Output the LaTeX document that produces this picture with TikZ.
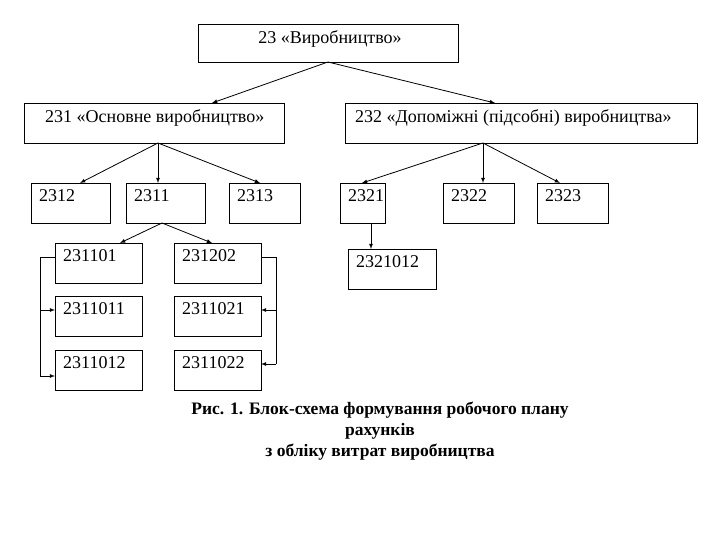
\documentclass[tikz,border=0pt]{standalone}
\usepackage{fontspec}
\setmainfont{Liberation Serif}
\begin{document}
\begin{tikzpicture}[x=1pt,y=-1pt,
  bx/.style={draw,line width=0.8pt,inner sep=0pt},
  arr/.style={-latex,line width=0.8pt},
  lbl/.style={anchor=north west,inner sep=0pt,font=\fontsize{18}{20}\selectfont}]
\useasboundingbox (0,0) rectangle (720,540);
\newcommand{\bxx}[6]{\draw[bx] (#2,#3) rectangle (#4,#5); \node[lbl] (#1) at (#2+8,#3+6) {#6};
  \coordinate (#1t) at ({(#2+#4)/2},#3); \coordinate (#1b) at ({(#2+#4)/2},#5);}
\bxx{top}{198}{24}{458}{62}{}
\node[font=\fontsize{18}{20}\selectfont,anchor=north,inner sep=0pt] (topl) at (330,30) {23 «Виробництво»};
\bxx{a}{24}{103}{284}{143}{}
\node[lbl] (al) at (45,109) {231 «Основне виробництво»};
\bxx{b}{345}{103}{697}{143}{}
\node[lbl] (bl) at (355,109) {232 «Допоміжні (підсобні) виробництва»};
\bxx{a2}{31}{183}{110}{223}{2312}
\bxx{a1}{126}{183}{205}{223}{2311}
\bxx{a3}{229}{183}{300}{223}{2313}
\bxx{b1}{340}{183}{385}{223}{2321}
\bxx{b2}{443}{183}{514}{223}{2322}
\bxx{b3}{537}{183}{608}{223}{2323}
\bxx{b11}{348}{249}{436}{289}{2321012}
\bxx{c1}{55}{243}{142}{283}{231101}
\bxx{d1}{174}{243}{261}{283}{231202}
\bxx{c2}{55}{296}{142}{336}{2311011}
\bxx{d2}{174}{296}{261}{336}{2311021}
\bxx{c3}{55}{350}{142}{390}{2311012}
\bxx{d3}{174}{350}{261}{390}{2311022}
\coordinate (s0) at (328,62);
\coordinate (e1) at (212,103); \coordinate (e2) at (495,103);
\draw[arr] (s0) -- (e1); \draw[arr] (s0) -- (e2);
\coordinate (s1) at (158,143);
\draw[arr] (s1) -- (80,183) coordinate (x1);
\draw[arr] (s1) -- (158,183) coordinate (x2);
\draw[arr] (s1) -- (260,183) coordinate (x3);
\coordinate (s2) at (483,143);
\draw[arr] (s2) -- (362,183) coordinate (y1);
\draw[arr] (s2) -- (483,183) coordinate (y2);
\draw[arr] (s2) -- (560,183) coordinate (y3);
\coordinate (s3) at (162,223);
\draw[arr] (s3) -- (120,243) coordinate (z1);
\draw[arr] (s3) -- (212,243) coordinate (z2);
\draw[arr] (371,223) coordinate (s4) -- (371,249) coordinate (z3);
\draw[line width=0.8pt] (55,257) -- (40,257) -- (40,376);
\draw[arr] (40,310) -- (55,310);
\draw[arr] (40,376) -- (55,376);
\draw[line width=0.8pt] (261,257) -- (276,257) -- (276,364);
\draw[arr] (276,310) -- (261,310);
\draw[arr] (276,364) -- (261,364);
\node[font=\bfseries\fontsize{17.5}{21}\selectfont,align=center] (cap) at (380,431)
  {Рис. 1. Блок-схема формування робочого плану\\ рахунків\\ з обліку витрат виробництва};
\end{tikzpicture}
\end{document}
